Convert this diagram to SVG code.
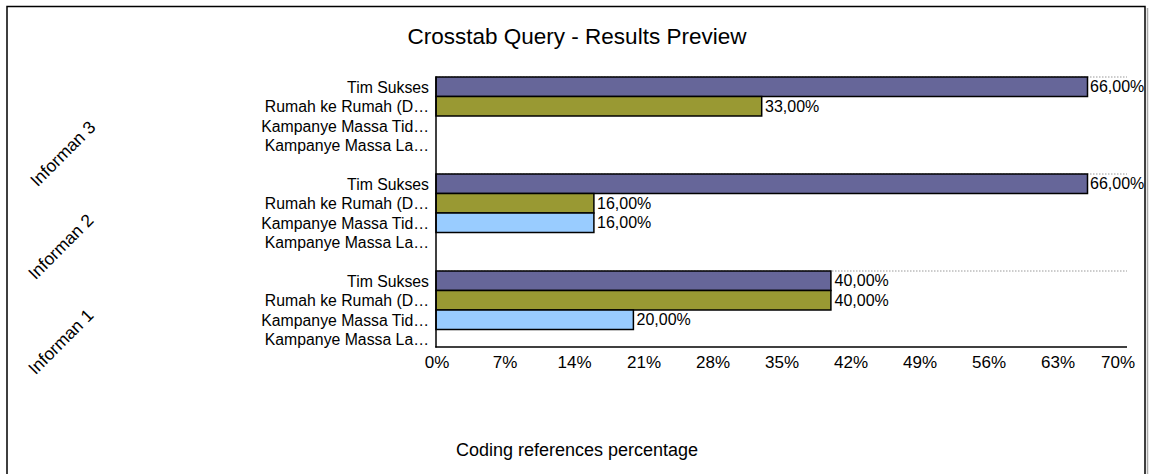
<svg xmlns="http://www.w3.org/2000/svg" width="1149" height="474" viewBox="0 0 1149 474">
<style>
text{font-family:"Liberation Sans",Arial,sans-serif;fill:#000}
.title{font-size:22.5px;text-anchor:middle}
.axt{font-size:18px;text-anchor:middle}
.cat{font-size:15.8px;text-anchor:end}
.val{font-size:16px}
.tick{font-size:17px;text-anchor:middle}
.inf{font-size:17.5px;text-anchor:middle}
.bar{stroke:#000;stroke-width:1.5}
.ts{fill:#666699}
.rr{fill:#999933}
.kt{fill:#99CCFF}
.grid{stroke:#999;stroke-width:1;stroke-dasharray:1.5 1.5;fill:none}
.axis{stroke:#000;stroke-width:1.5;fill:none}
</style>
<rect x="0" y="0" width="1149" height="474" fill="#fff"/>
<g id="frame">
<line x1="1147.5" y1="8" x2="1147.5" y2="474" stroke="#aaa" stroke-width="1.5"/>
<rect x="7" y="6.5" width="1138" height="480" fill="none" stroke="#000" stroke-width="1.5"/>
</g>
<text class="title" x="577" y="44">Crosstab Query - Results Preview</text>
<g id="gridlines">
<line class="grid" x1="436" y1="77" x2="1127" y2="77"/>
<line class="grid" x1="436" y1="174" x2="1127" y2="174"/>
<line class="grid" x1="436" y1="271" x2="1127" y2="271"/>
</g>
<g id="informan3">
<text class="inf" transform="translate(67,158) rotate(-45)">Informan 3</text>
<text class="cat" x="429" y="92.5">Tim Sukses</text>
<text class="cat" x="429" y="112">Rumah ke Rumah (D…</text>
<text class="cat" x="429" y="131.5">Kampanye Massa Tid…</text>
<text class="cat" x="429" y="151">Kampanye Massa La…</text>
<rect class="bar ts" x="436" y="77" width="651.5" height="19.5"/>
<rect class="bar rr" x="436" y="96.5" width="325.7" height="19.5"/>
<text class="val" x="1090" y="92">66,00%</text>
<text class="val" x="765" y="111.5">33,00%</text>
</g>
<g id="informan2">
<text class="inf" transform="translate(65,251) rotate(-45)">Informan 2</text>
<text class="cat" x="429" y="189.5">Tim Sukses</text>
<text class="cat" x="429" y="209">Rumah ke Rumah (D…</text>
<text class="cat" x="429" y="228.5">Kampanye Massa Tid…</text>
<text class="cat" x="429" y="248">Kampanye Massa La…</text>
<rect class="bar ts" x="436" y="174" width="651.5" height="19.5"/>
<rect class="bar rr" x="436" y="193.5" width="157.9" height="19.5"/>
<rect class="bar kt" x="436" y="213" width="157.9" height="19.5"/>
<text class="val" x="1090" y="189">66,00%</text>
<text class="val" x="597" y="208.5">16,00%</text>
<text class="val" x="597" y="228">16,00%</text>
</g>
<g id="informan1">
<text class="inf" transform="translate(65,346) rotate(-45)">Informan 1</text>
<text class="cat" x="429" y="286.5">Tim Sukses</text>
<text class="cat" x="429" y="306">Rumah ke Rumah (D…</text>
<text class="cat" x="429" y="325.5">Kampanye Massa Tid…</text>
<text class="cat" x="429" y="345">Kampanye Massa La…</text>
<rect class="bar ts" x="436" y="271" width="394.9" height="19.5"/>
<rect class="bar rr" x="436" y="290.5" width="394.9" height="19.5"/>
<rect class="bar kt" x="436" y="310" width="197.4" height="19.5"/>
<text class="val" x="834.5" y="286">40,00%</text>
<text class="val" x="834.5" y="305.5">40,00%</text>
<text class="val" x="636.5" y="325">20,00%</text>
</g>
<g id="axes">
<line class="axis" x1="436" y1="76.5" x2="436" y2="347.5"/>
<line class="axis" x1="435.25" y1="347" x2="1127" y2="347"/>
<text class="tick" x="437" y="368">0%</text>
<text class="tick" x="505" y="368">7%</text>
<text class="tick" x="574.5" y="368">14%</text>
<text class="tick" x="644" y="368">21%</text>
<text class="tick" x="713" y="368">28%</text>
<text class="tick" x="782" y="368">35%</text>
<text class="tick" x="851" y="368">42%</text>
<text class="tick" x="920" y="368">49%</text>
<text class="tick" x="989" y="368">56%</text>
<text class="tick" x="1058" y="368">63%</text>
<text class="tick" x="1118" y="368">70%</text>
</g>
<text class="axt" x="577" y="456">Coding references percentage</text>
</svg>
